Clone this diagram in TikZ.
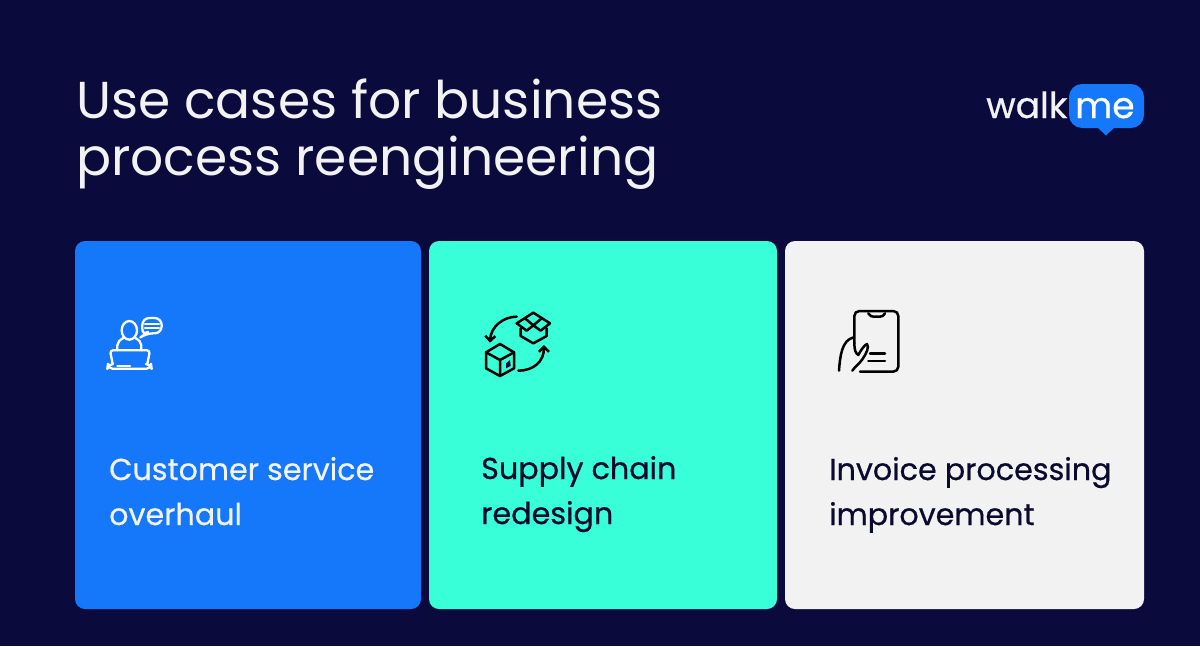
\documentclass[tikz,border=0pt]{standalone}
\usepackage{fontspec}
\setmainfont{Poppins}
\newfontfamily\medfont[FakeBold=0.6]{Poppins}
\usetikzlibrary{arrows.meta}
\definecolor{bgnavy}{HTML}{0A0A3C}
\definecolor{cardblue}{HTML}{1577FA}
\definecolor{cardteal}{HTML}{38FFD7}
\definecolor{cardgrey}{HTML}{F2F2F2}
\definecolor{inkdark}{HTML}{0A0A2E}
\tikzset{
  card/.style={rounded corners=10pt,draw=none},
  titletext/.style={anchor=base west,inner sep=0pt,text=cardgrey,font=\fontsize{51.9}{57}\selectfont},
  cardtext/.style={anchor=base west,inner sep=0pt,font=\medfont\fontsize{30.2}{36}\selectfont},
  iconw/.style={draw=white,line width=2.3pt,line cap=round,line join=round,fill=none},
  icond/.style={draw=black,line width=2.5pt,line cap=round,line join=round,fill=none},
  arrowd/.style={icond,-{Straight Barb[length=5pt,width=10pt,line width=2.5pt]}},
}
\begin{document}
\begin{tikzpicture}[x=1pt,y=-1pt]
\useasboundingbox (0,0) rectangle (1200,646);
\fill[bgnavy] (0,0) rectangle (1200,646);
% title
\node[titletext] (t1) at (76,118) {Use cases for business};
\node[titletext] (t2) at (76,175) {process reengineering};
% cards
\fill[card,cardblue] (75,241) rectangle (421,609);
\fill[card,cardteal] (429,241) rectangle (777,609);
\fill[card,cardgrey] (785,241) rectangle (1144,609);
% card text
\node[cardtext,text=cardgrey] (c1a) at (109,480) {Customer service};
\node[cardtext,text=cardgrey] (c1b) at (109,525) {overhaul};
\node[cardtext,text=inkdark] (c2a) at (481,479) {Supply chain};
\node[cardtext,text=inkdark] (c2b) at (481,524) {redesign};
\node[cardtext,text=inkdark] (c3a) at (829,480) {Invoice processing};
\node[cardtext,text=inkdark] (c3b) at (829,525) {improvement};
% logo
\fill[cardblue,rounded corners=13pt] (1069,84) rectangle (1144,128);
\fill[cardblue] (1097,127) -- (1106,135.5) -- (1115,127) -- cycle;
\node[anchor=base west,inner sep=0pt,text=cardgrey,font=\medfont\fontsize{36}{36}\selectfont] (lw) at (986,118) {walk};
\node[anchor=base west,inner sep=0pt,text=white,font=\medfont\fontsize{36}{36}\selectfont] (lm) at (1075,118) {me};
% icon 1: person at laptop
\begin{scope}[shift={(90,300)},x=0.3333pt,y=-0.3333pt,iconw]
  \draw (118,91) ellipse [x radius=23,y radius=28];
  \draw (82,151) -- (82,136) .. controls (82,126) and (90,120) .. (100,114);
  \draw (154,151) -- (154,136) .. controls (154,126) and (146,120) .. (136,114);
  \draw[rounded corners=7pt] (157,108) -- (157,54) -- (215,54) -- (215,100) -- (168,100) -- cycle;
  \draw (165,71) -- (207,71) (165,85) -- (207,85);
  \draw[rounded corners=3pt] (68,192) -- (60,151) -- (180,151) -- (172,192);
  \draw[rounded corners=5pt] (68,192) -- (54,192) -- (52,206) -- (185,206) -- (183,192) -- (172,192);
  \draw (82,197) -- (120,197);
\end{scope}
% icon 2: boxes
\begin{scope}[shift={(470,300)},x=0.3333pt,y=-0.3333pt,icond]
  \draw (90,132) -- (132,157) -- (132,205) -- (90,228) -- (48,205) -- (48,157) -- cycle;
  \draw (48,157) -- (90,180) -- (132,157) (90,180) -- (90,228);
  \fill[bgnavy,draw=none] (108,205) -- (108,190) -- (120,180) -- (122,198) -- cycle;
  \draw (190,38) -- (240,70) -- (212,92) -- (190,76) -- (170,92) -- (140,70) -- cycle;
  \draw (165,55) -- (190,76) -- (215,55);
  \draw (152,85) -- (152,108) -- (190,130) -- (230,108) -- (230,85);
  \draw[arrowd] (140,50) .. controls (100,50) and (62,80) .. (60,128);
  \draw[arrowd] (145,212) .. controls (190,212) and (222,185) .. (222,135);
\end{scope}
% icon 3: hand and phone
\begin{scope}[shift={(825,300)},x=0.3333pt,y=-0.3333pt,icond]
  \draw[rounded corners=5pt] (88,130) -- (88,33) -- (220,33) -- (220,215) -- (105,215);
  \draw (130,40) .. controls (135,48) and (140,50) .. (145,50) -- (165,50) .. controls (172,50) and (176,47) .. (180,40);
  \draw (42,212) .. controls (45,170) and (50,120) .. (86,112);
  \draw (88,130) .. controls (88,150) and (92,160) .. (100,165) .. controls (108,150) and (118,135) .. (126,132) .. controls (133,140) and (125,160) .. (112,178) .. controls (100,195) and (90,200) .. (82,212);
  \draw (135,160) -- (180,160) (130,183) -- (180,183);
\end{scope}
\end{tikzpicture}
\end{document}
